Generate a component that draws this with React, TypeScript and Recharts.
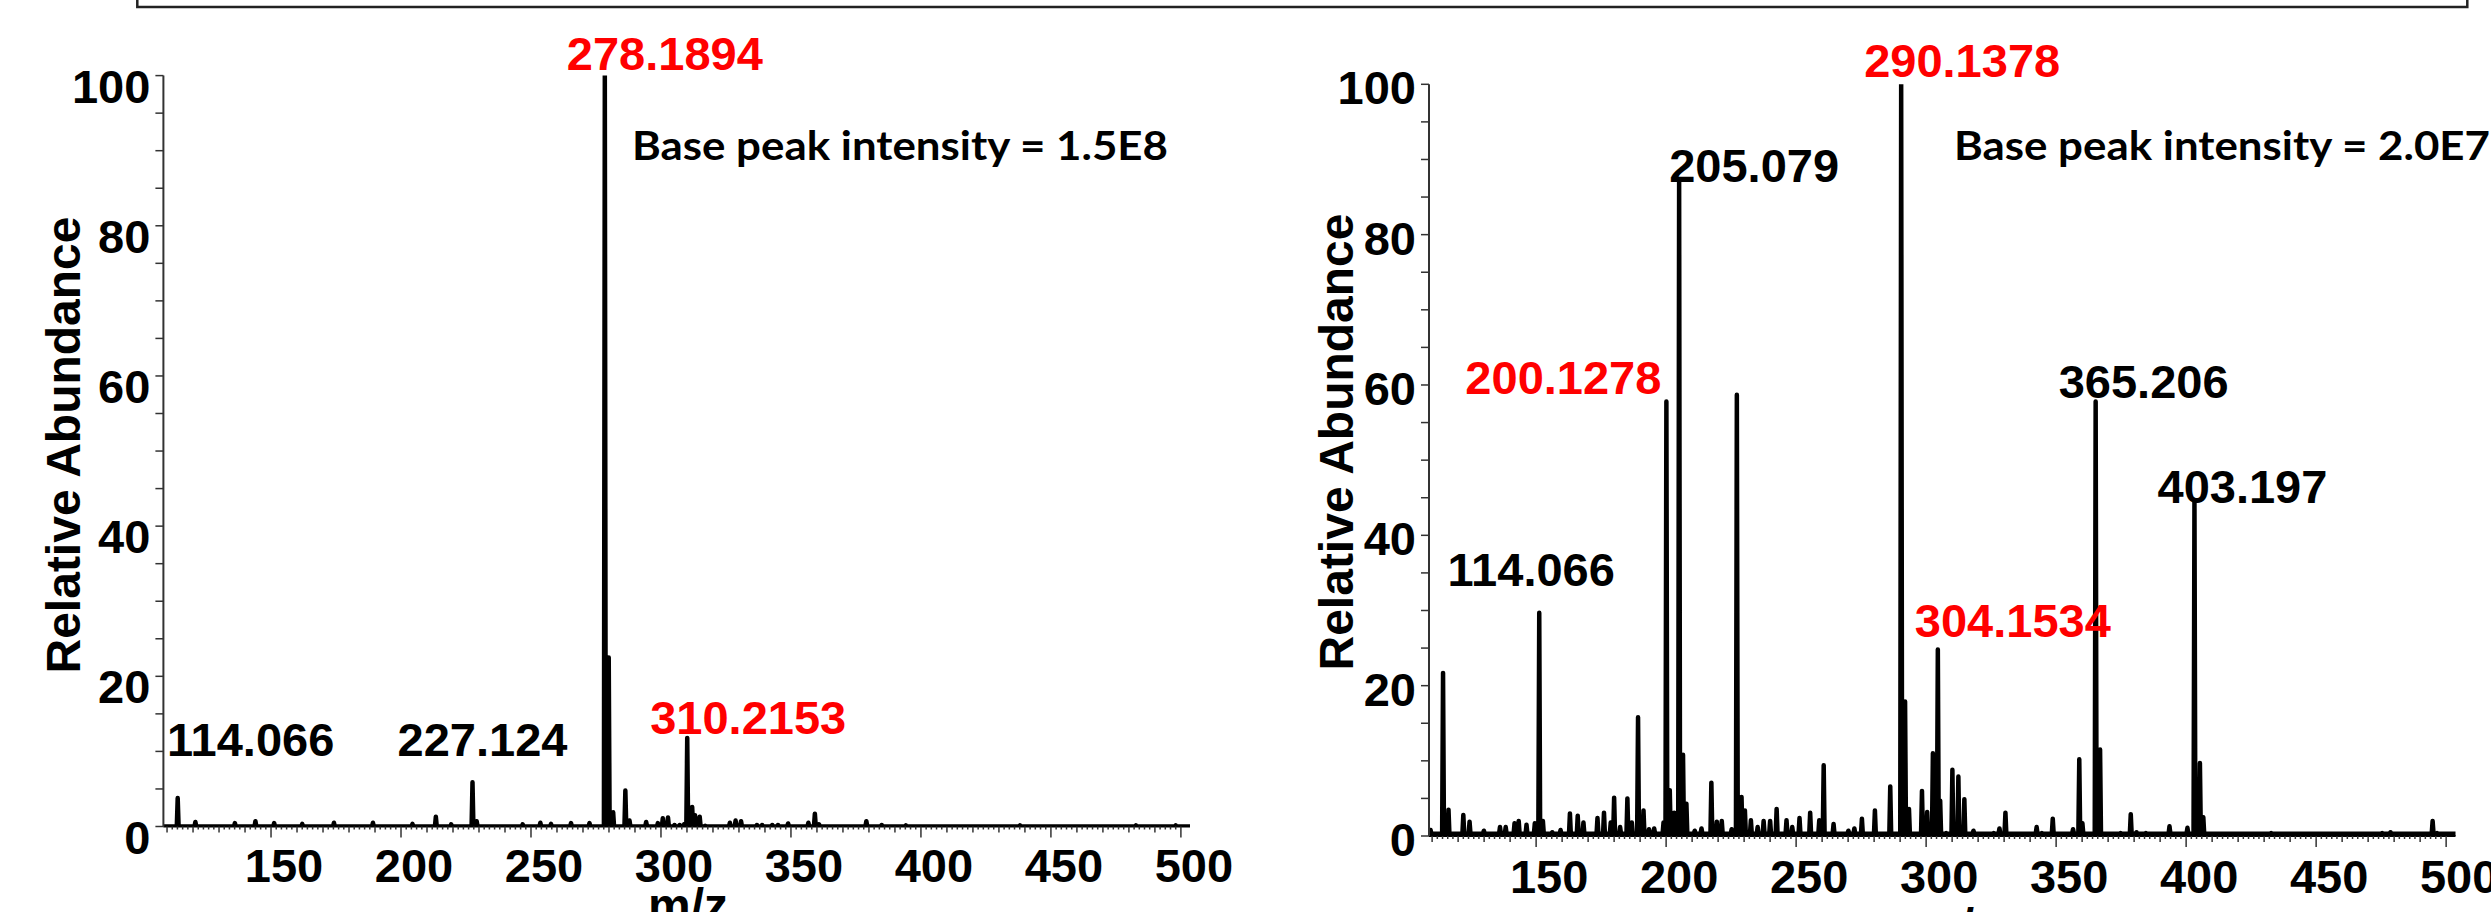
import React from "react";
import { LineChart, Line, XAxis, YAxis, ReferenceDot } from "recharts";

// spectrum A (left), base peak 278.1894
const mzA = [
  114.1, 120.9, 136.1, 144.0, 151.2, 162.0, 174.2, 189.2, 204.4, 213.4, 219.3,
  227.5, 229.1, 246.8, 253.6, 257.7, 265.4, 272.5, 278.4, 279.9, 281.6, 286.3,
  287.9, 294.3, 298.8, 300.7, 302.7, 305.2, 307.2, 308.9, 310.1, 312.0, 313.1,
  314.9, 317.0, 326.5, 328.7, 330.8, 336.9, 338.9, 342.8, 345.0, 348.9, 356.7,
  359.2, 360.8, 379.0, 384.9, 394.2, 438.1, 482.7, 498.0,
];
const abA = [
  3.8, 0.6, 0.45, 0.7, 0.45, 0.35, 0.5, 0.5, 0.35, 1.3, 0.3,
  5.9, 0.7, 0.3, 0.5, 0.35, 0.45, 0.45, 100, 22.5, 1.9, 4.8,
  0.8, 0.6, 0.45, 1.1, 1.2, 0.2, 0.2, 0.3, 11.8, 2.6, 1.5,
  1.3, 0.1, 0.5, 0.8, 0.7, 0.2, 0.2, 0.2, 0.2, 0.4, 0.5,
  1.7, 0.3, 0.7, 0.2, 0.15, 0.15, 0.15, 0.15,
];

// spectrum B (right), base peak 290.1378
const mzB = [
  109.4, 114.2, 116.3, 122.0, 124.4, 129.9, 136.1, 138.3, 141.7, 143.3, 146.3,
  149.5, 151.2, 152.6, 156.2, 159.4, 163.0, 166.0, 168.2, 173.6, 176.1, 178.7,
  180.0, 182.3, 185.1, 186.8, 189.2, 191.3, 193.4, 195.4, 199.0, 200.1, 201.4,
  203.1, 205.0, 206.5, 207.8, 211.0, 213.6, 217.4, 219.5, 221.4, 225.2, 227.2,
  229.0, 230.3, 232.6, 235.2, 237.5, 240.0, 242.5, 246.3, 248.5, 251.3, 255.4,
  258.9, 260.6, 264.4, 270.1, 272.4, 275.3, 280.3, 286.2, 290.4, 291.9, 293.4,
  298.4, 300.4, 302.6, 304.5, 305.4, 307.7, 310.1, 312.4, 314.7, 318.2, 326.0,
  328.2, 330.5, 335.7, 338.7, 342.5, 344.5, 348.7, 352.7, 356.5, 358.9, 360.1,
  365.2, 366.9, 374.8, 378.7, 380.9, 384.5, 389.1, 393.6, 400.5, 403.2, 405.3,
  406.6, 414.5, 425.5, 432.7, 441.1, 453.5, 469.1, 475.4, 478.6, 489.9, 494.8,
  496.5,
];
const abB = [
  0.8, 21.7, 3.5, 2.8, 1.9, 0.7, 1.2, 1.2, 1.7, 2.0, 1.5,
  1.7, 29.7, 2.0, 0.5, 0.8, 3.0, 2.7, 1.8, 2.4, 3.1, 1.8,
  5.1, 1.2, 5.0, 1.8, 15.8, 3.4, 0.9, 1.0, 1.8, 57.8, 6.1,
  3.1, 87.2, 10.8, 4.3, 0.7, 1.0, 7.1, 1.9, 2.0, 0.9, 58.7,
  5.2, 3.4, 2.1, 1.2, 2.0, 2.0, 3.6, 2.1, 1.2, 2.4, 3.1,
  2.1, 9.4, 1.6, 0.7, 1.0, 2.3, 3.4, 6.6, 100, 17.9, 3.6,
  6.0, 3.2, 11.0, 24.8, 4.7, 0.4, 8.8, 7.9, 4.9, 0.7, 0.4,
  1.0, 3.1, 0.3, 0.3, 1.2, 0.4, 2.3, 0.3, 0.9, 10.2, 1.7,
  57.8, 11.5, 0.4, 2.9, 0.5, 0.4, 0.3, 1.3, 1.1, 44.7, 9.7,
  2.5, 0.3, 0.3, 0.4, 0.3, 0.3, 0.3, 0.4, 0.5, 0.3, 2.0,
  0.4,
];

// peak annotations
const tagTextA = ["278.1894", "114.066", "227.124", "310.2153"];
const tagMzA = [278.4, 114.1, 227.5, 310.1];
const tagAbA = [100, 3.8, 5.9, 11.8];
const tagRedA = [true, false, false, true];

const tagTextB = ["290.1378", "205.079", "200.1278", "365.206", "403.197", "114.066", "304.1534"];
const tagMzB = [290.4, 205.0, 200.1, 365.2, 403.2, 151.2, 304.5];
const tagAbB = [100, 87.2, 57.8, 57.8, 44.7, 29.7, 24.8];
const tagRedB = [true, false, true, false, false, false, true];

const xLabels = [150, 200, 250, 300, 350, 400, 450, 500];
const yLabels = [0, 20, 40, 60, 80, 100];

// label offsets from the peak apex (px)
const tagOffA = [[60, -6], [73, -42], [10, -26], [61, -4]];
const tagOffB = [[61, -7], [75, 1], [-103, -7.5], [48, -3.5], [48, 3], [-8, -27], [75, -13]];

const FONT = "'Liberation Sans', Arial, sans-serif";
const RED = "#ff0000";

const xMinor: number[] = [];
for (let v = 110; v <= 500; v += 2) xMinor.push(v);
const yMinor: number[] = [];
for (let v = 0; v <= 100; v += 5) yMinor.push(v);

function trace(mz: number[], ab: number[], lo: number, hi: number, base: number) {
  const pts = [{ mz: lo, ab: base }];
  mz.forEach((m, i) => {
    pts.push({ mz: m - 0.35, ab: base }, { mz: m, ab: ab[i] }, { mz: m + 0.35, ab: base });
  });
  pts.push({ mz: hi, ab: base });
  return pts;
}

function XTick(props: any) {
  const { x, y, payload, labelDy } = props;
  const v = payload.value;
  const len = v % 50 === 0 ? 11 : v % 10 === 0 ? 6 : 3;
  return (
    <g>
      <line x1={x} y1={y} x2={x} y2={y + len} stroke="#333" strokeWidth={1.5} />
      {xLabels.includes(v) && (
        <text x={x + 13} y={y + labelDy} textAnchor="middle" fontFamily={FONT}
          fontWeight="bold" fontSize={47} fill="#000">{v}</text>
      )}
    </g>
  );
}

function YTick(props: any) {
  const { x, y, payload, labelDy } = props;
  const v = payload.value;
  return (
    <g>
      <line x1={x} y1={y} x2={x - 8} y2={y} stroke="#333" strokeWidth={1.5} />
      {yLabels.includes(v) && (
        <text x={x - 13} y={y + labelDy} textAnchor="end" fontFamily={FONT}
          fontWeight="bold" fontSize={47} fill="#000">{v}</text>
      )}
    </g>
  );
}

function Tag(props: any) {
  const { viewBox, text, red, dx, dy } = props;
  return (
    <text x={viewBox.x + dx} y={viewBox.y + dy} textAnchor="middle" fontFamily={FONT}
      fontWeight="bold" fontSize={47} fill={red ? RED : "#000"}>{text}</text>
  );
}

interface SpecProps {
  mz: number[];
  ab: number[];
  base: number;
  domain: [number, number];
  width: number;
  margin: { top: number; right: number };
  yWidth: number;
  xHeight: number;
  xLabelDy: number;
  yLabelDy: number;
  tagText: string[];
  tagMz: number[];
  tagAb: number[];
  tagRed: boolean[];
  tagOff: number[][];
}

function Spectrum(p: SpecProps) {
  const data = trace(p.mz, p.ab, p.domain[0], p.domain[1], p.base);
  return (
    <LineChart width={p.width} height={912} data={data}
      margin={{ top: p.margin.top, right: p.margin.right, bottom: 0, left: 0 }}>
      <XAxis dataKey="mz" type="number" domain={p.domain} allowDataOverflow
        ticks={xMinor} interval={0} tickSize={0} tickMargin={0} tickLine={false}
        height={p.xHeight} axisLine={{ stroke: "#000", strokeWidth: 2 }}
        tick={<XTick labelDy={p.xLabelDy} />} />
      <YAxis type="number" domain={[0, 100]} allowDataOverflow ticks={yMinor} interval={0}
        tickSize={0} tickMargin={0} tickLine={false} width={p.yWidth}
        axisLine={{ stroke: "#333", strokeWidth: 2 }}
        tick={<YTick labelDy={p.yLabelDy} />} />
      <Line dataKey="ab" type="linear" stroke="#000" strokeWidth={4.5} dot={false}
        strokeLinejoin="round" strokeLinecap="round" isAnimationActive={false} />
      {p.tagText.map((t, i) => (
        <ReferenceDot key={t + i} x={p.tagMz[i]} y={p.tagAb[i]} r={0} stroke="none" fill="none"
          label={<Tag text={t} red={p.tagRed[i]} dx={p.tagOff[i][0]} dy={p.tagOff[i][1]} />} />
      ))}
    </LineChart>
  );
}

export default function App() {
  return (
    <div style={{ position: "absolute", left: 0, top: 0, width: 2491, height: 912,
      overflow: "hidden", background: "#fff" }}>
      <div style={{ position: "absolute", left: 0, top: 0 }}>
        <Spectrum mz={mzA} ab={abA} base={0} domain={[108.6, 503.5]} width={1250}
          margin={{ top: 75.6, right: 60 }} yWidth={163.4} xHeight={85.5}
          xLabelDy={55} yLabelDy={27}
          tagText={tagTextA} tagMz={tagMzA} tagAb={tagAbA} tagRed={tagRedA} tagOff={tagOffA} />
      </div>
      <div style={{ position: "absolute", left: 1250, top: 0 }}>
        <Spectrum mz={mzB} ab={abB} base={0.3} domain={[108.8, 503.6]} width={1241}
          margin={{ top: 84.3, right: 35.5 }} yWidth={179} xHeight={76}
          xLabelDy={57} yLabelDy={20}
          tagText={tagTextB} tagMz={tagMzB} tagAb={tagAbB} tagRed={tagRedB} tagOff={tagOffB} />
      </div>
      <svg width={2491} height={912} style={{ position: "absolute", left: 0, top: 0, pointerEvents: "none" }}>
        <rect x={137.3} y={-20} width={2330} height={27} fill="none" stroke="#222" strokeWidth={2.5} />
        <text x={632} y={160} fontFamily="Lato, 'Open Sans', sans-serif" fontWeight="bold"
          fontSize={40} textLength={536} lengthAdjust="spacingAndGlyphs" fill="#000">
          Base peak intensity = 1.5E8
        </text>
        <text x={1954} y={160} fontFamily="Lato, 'Open Sans', sans-serif" fontWeight="bold"
          fontSize={40} textLength={536} lengthAdjust="spacingAndGlyphs" fill="#000">
          Base peak intensity = 2.0E7
        </text>
        <text transform="translate(80,445) rotate(-90)" textAnchor="middle" fontFamily={FONT}
          fontWeight="bold" fontSize={48} fill="#000">Relative Abundance</text>
        <text transform="translate(1353,442) rotate(-90)" textAnchor="middle" fontFamily={FONT}
          fontWeight="bold" fontSize={48} fill="#000">Relative Abundance</text>
        <text x={688} y={922} textAnchor="middle" fontFamily={FONT} fontWeight="bold"
          fontSize={48} fill="#000">m/z</text>
        <text x={1958} y={942} textAnchor="middle" fontFamily={FONT} fontWeight="bold"
          fontSize={48} fill="#000">m/z</text>
      </svg>
    </div>
  );
}
